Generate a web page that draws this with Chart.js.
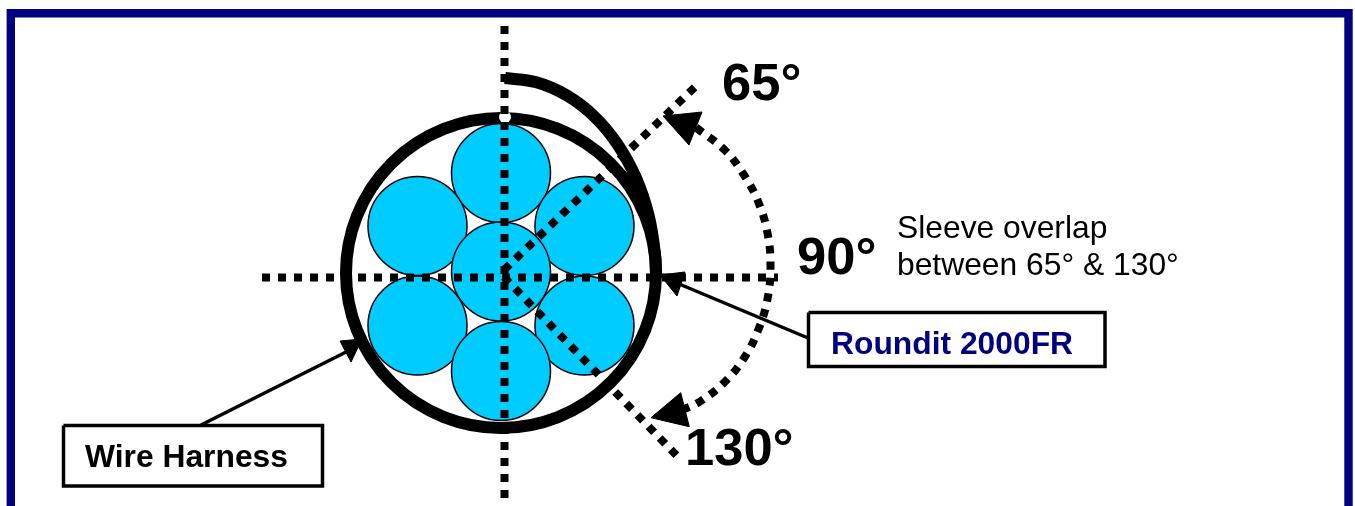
<!DOCTYPE html>
<html>
<head>
<meta charset="utf-8">
<title>Wire harness sleeve overlap</title>
<style>
  html, body { margin: 0; padding: 0; background: #fff; overflow: hidden; }
  canvas { display: block; }
</style>
<script src="https://cdn.jsdelivr.net/npm/chart.js@4"></script>
</head>
<body>
<canvas id="chart" width="1355" height="506"></canvas>
<script>
// Everything in page pixels; the axes run 0-1355 and 0-506.
const frameEdge = [[10.8, 506], [10.8, 13.3], [1348.5, 13.3], [1348.5, 506]];

const wireCentres = [[501, 173], [417.5, 226], [584.5, 226], [501, 271.5], [417.5, 325.5], [584.5, 325.5], [501, 371]];
const ringCentre = [[501, 273]];
const ringGap = [[505, 117]];

const verticalAxis = [[504.5, 26], [504.5, 498]];
const horizontalAxis = [[262, 277.5], [778, 277.5]];
const line65 = [[504, 270], [695, 87]];
const line130 = [[504, 277], [678, 457]];

const sleeve = [[505, 78], [536.4, 82.3], [566.4, 95.2], [593.8, 116], [617.2, 143.8], [635.8, 177.5], [648.6, 215.5], [655.2, 256.2], [656, 277]];
const sweepArc = [[696, 127.5], [724.7, 150], [744, 175], [758.7, 203], [767.7, 234], [770.5, 266],
  [767.7, 298], [759, 328], [744.7, 357], [724.7, 382], [699.3, 402], [682, 410]];

const arrowHead65 = [[663, 116], [702, 112], [689, 145], [663, 116]];
const arrowHead130 = [[651, 417.7], [680.7, 392.7], [689.3, 426.7], [651, 417.7]];
const roundArrowHead = [[660, 275], [685, 272], [677, 296], [660, 275]];
const harnessArrowHead = [[362, 339], [340, 341], [351, 362], [362, 339]];
const roundLeader = [[672, 281], [808, 338]];
const harnessLeader = [[201, 425], [352, 349]];

const roundBox = [[808.5, 312.5], [1105, 312.5], [1105, 366.5], [808.5, 366.5], [808.5, 312.5]];
const harnessBox = [[63.5, 425.5], [322.5, 425.5], [322.5, 486], [63.5, 486], [63.5, 425.5]];

const labelTexts = ['65°', '90°', '130°', 'Sleeve overlap', 'between 65° & 130°', 'Roundit 2000FR', 'Wire Harness'];
const labelAnchors = [[722, 99.5], [797, 274], [685, 465], [897, 238], [897, 275], [831, 354], [85, 467]];
const labelFonts = ['bold 52.5px "Liberation Sans"', 'bold 52.5px "Liberation Sans"', 'bold 52.5px "Liberation Sans"',
  '31.8px "Liberation Sans"', '31.8px "Liberation Sans"', 'bold 31.8px "Liberation Sans"', 'bold 31.8px "Liberation Sans"'];
const labelColors = ['#000', '#000', '#000', '#000', '#000', '#000080', '#000'];

const BLACK = '#000';
const NAVY = '#000080';
const toXY = pairs => pairs.map(p => ({ x: p[0], y: p[1] }));

function lineSet(pairs, opts) {
  return Object.assign({
    data: toXY(pairs),
    showLine: true,
    pointRadius: 0,
    borderColor: BLACK,
    borderWidth: 1,
    fill: false,
    clip: false,
  }, opts);
}

function polygon(pairs) {
  return lineSet(pairs, { borderWidth: 1, backgroundColor: BLACK, fill: 'shape' });
}

function dotted(pairs, extra) {
  return lineSet(pairs, Object.assign({ borderWidth: 8, borderDash: [8, 8], borderCapStyle: 'butt' }, extra));
}

// Chart.js paints the first dataset last, so this list reads top layer first.
const datasets = [
  polygon(arrowHead65),
  polygon(arrowHead130),
  polygon(roundArrowHead),
  polygon(harnessArrowHead),
  dotted(verticalAxis),
  lineSet(sleeve, { borderWidth: 12, tension: 0.4, borderCapStyle: 'butt' }),
  { data: toXY(ringGap), pointRadius: 6, pointBackgroundColor: '#fff', pointBorderWidth: 0, clip: false },
  { data: toXY(ringCentre), pointRadius: 155, pointBackgroundColor: 'transparent', pointBorderColor: BLACK, pointBorderWidth: 12, clip: false },
  dotted(horizontalAxis),
  dotted(line65),
  dotted(line130),
  dotted(sweepArc, { tension: 0.4 }),
  { data: toXY(wireCentres), pointRadius: 49.5, pointBackgroundColor: '#00CCFF', pointBorderColor: BLACK, pointBorderWidth: 1.5, clip: false },
  lineSet(roundBox, { borderWidth: 3.5, backgroundColor: '#fff', fill: 'shape' }),
  lineSet(harnessBox, { borderWidth: 3.5, backgroundColor: '#fff', fill: 'shape' }),
  lineSet(roundLeader, { borderWidth: 3.5 }),
  lineSet(harnessLeader, { borderWidth: 3.5 }),
  lineSet(frameEdge, { borderColor: NAVY, borderWidth: 8.4, borderJoinStyle: 'miter' }),
];

const labelPlugin = {
  id: 'labels',
  afterDatasetsDraw(chart) {
    const { ctx, scales } = chart;
    ctx.save();
    ctx.textBaseline = 'alphabetic';
    ctx.textAlign = 'left';
    labelTexts.forEach((text, i) => {
      ctx.font = labelFonts[i];
      ctx.fillStyle = labelColors[i];
      ctx.fillText(text, scales.x.getPixelForValue(labelAnchors[i][0]), scales.y.getPixelForValue(labelAnchors[i][1]));
    });
    ctx.restore();
  },
};

new Chart(document.getElementById('chart'), {
  type: 'scatter',
  data: { datasets },
  options: {
    responsive: false,
    animation: false,
    layout: { padding: 0, autoPadding: false },
    scales: {
      x: { type: 'linear', min: 0, max: 1355, display: false },
      y: { type: 'linear', min: 0, max: 506, reverse: true, display: false },
    },
    plugins: { legend: { display: false }, tooltip: { enabled: false } },
  },
  plugins: [labelPlugin],
});
</script>
</body>
</html>
